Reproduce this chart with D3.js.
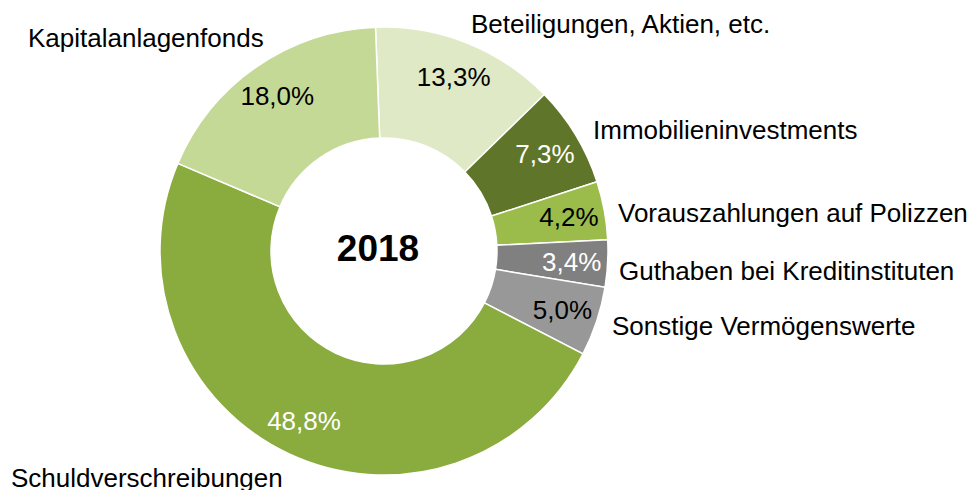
<!DOCTYPE html>
<html>
<head>
<meta charset="utf-8">
<script src="https://cdn.jsdelivr.net/npm/d3@7"></script>
<style>
  html, body { margin: 0; padding: 0; background: #fff; }
  svg { display: block; font-family: "Liberation Sans", Arial, sans-serif; }
</style>
</head>
<body>
<div id="chart"></div>
<script>
const categories = [
    'Beteiligungen, Aktien, etc.',
    'Immobilieninvestments',
    'Vorauszahlungen auf Polizzen',
    'Guthaben bei Kreditinstituten',
    'Sonstige Vermögenswerte',
    'Schuldverschreibungen',
    'Kapitalanlagenfonds'
];
const shares = [13.3, 7.3, 4.2, 3.4, 5.0, 48.8, 18.0];
const shareLabels = ['13,3%', '7,3%', '4,2%', '3,4%', '5,0%', '48,8%', '18,0%'];
const centerTitle = '2018';

// layout only
const sliceColors = ['#dfe9c5', '#5f7529', '#9bbb4a', '#808080', '#989898', '#8aab3e', '#c5d996'];
const valueColors = ['#000', '#fff', '#000', '#fff', '#000', '#fff', '#000'];
// left x, baseline y of the category labels
const labelAnchors = [[471, 33], [593, 139], [618, 222], [619, 280], [612, 335], [11, 487], [28, 47]];

const width = 976, height = 490;
const cx = 384, cy = 251;
const outerR = 224, innerR = 113;

const svg = d3.select('#chart').append('svg')
    .attr('width', width)
    .attr('height', height);

const pie = d3.pie()
    .sort(null)
    .value(d => d)
    .startAngle(-0.038)
    .endAngle(2 * Math.PI - 0.038);

const arcs = pie(shares);

const arc = d3.arc()
    .innerRadius(innerR)
    .outerRadius(outerR);

const labelArc = d3.arc()
    .innerRadius(188)
    .outerRadius(188);

const g = svg.append('g')
    .attr('transform', `translate(${cx},${cy})`);

g.selectAll('path.slice')
    .data(arcs)
    .enter().append('path')
    .attr('class', 'slice')
    .attr('d', arc)
    .attr('fill', (d, i) => sliceColors[i])
    .attr('stroke', '#fff')
    .attr('stroke-width', 1.5);

g.selectAll('text.value')
    .data(arcs)
    .enter().append('text')
    .attr('class', 'value')
    .attr('transform', d => `translate(${labelArc.centroid(d)})`)
    .attr('text-anchor', 'middle')
    .attr('dy', '0.35em')
    .style('font-size', '26px')
    .attr('fill', (d, i) => valueColors[i])
    .text((d, i) => shareLabels[i]);

g.append('text')
    .attr('x', -6)
    .attr('y', -3)
    .attr('text-anchor', 'middle')
    .attr('dy', '0.35em')
    .style('font-size', '37px')
    .style('font-weight', 'bold')
    .text(centerTitle);

svg.selectAll('text.cat')
    .data(categories)
    .enter().append('text')
    .attr('class', 'cat')
    .attr('x', (d, i) => labelAnchors[i][0])
    .attr('y', (d, i) => labelAnchors[i][1])
    .style('font-size', '26px')
    .attr('fill', '#000')
    .text(d => d);
</script>
</body>
</html>
